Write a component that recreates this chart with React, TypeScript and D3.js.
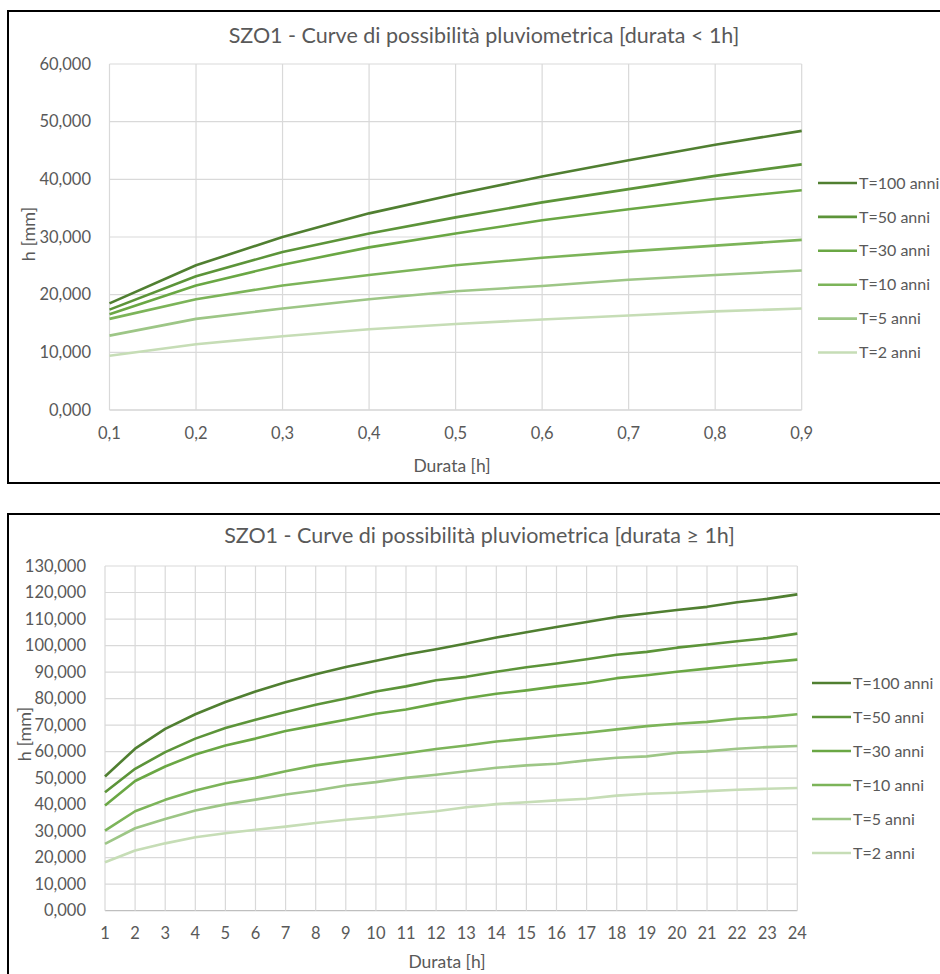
import React from "react";
import * as d3 from "d3";

// ---------- DATA ----------
const seriesNames = ["T=100 anni", "T=50 anni", "T=30 anni", "T=10 anni", "T=5 anni", "T=2 anni"];
const seriesColors = ["#507f31", "#5c9439", "#6aa744", "#7cb459", "#9dc686", "#c6ddb6"];

// Chart 1: durata < 1h
const durShort = [0.1, 0.2, 0.3, 0.4, 0.5, 0.6, 0.7, 0.8, 0.9];
const shortT100 = [18.5, 25.1, 30.0, 34.1, 37.4, 40.5, 43.3, 46.0, 48.4];
const shortT50 = [17.4, 23.2, 27.4, 30.6, 33.4, 36.0, 38.3, 40.6, 42.6];
const shortT30 = [16.6, 21.6, 25.2, 28.2, 30.6, 32.9, 34.8, 36.6, 38.1];
const shortT10 = [15.8, 19.2, 21.6, 23.4, 25.1, 26.4, 27.5, 28.5, 29.5];
const shortT5 = [12.9, 15.8, 17.6, 19.2, 20.6, 21.5, 22.6, 23.4, 24.2];
const shortT2 = [9.4, 11.4, 12.8, 14.0, 14.9, 15.7, 16.4, 17.1, 17.6];
const shortYTicks = [0, 10, 20, 30, 40, 50, 60];

// Chart 2: durata >= 1h
const durLong = d3.range(1, 25);
const longT100 = [50.6, 61.1, 68.6, 74.1, 78.7, 82.7, 86.2, 89.2, 91.9, 94.3, 96.6, 98.6, 100.8, 103.0, 105.0, 107.0, 108.9, 110.8, 112.1, 113.4, 114.6, 116.3, 117.6, 119.3];
const longT50 = [44.7, 53.5, 59.8, 64.9, 68.9, 72.0, 74.9, 77.7, 80.0, 82.7, 84.6, 86.9, 88.2, 90.1, 91.8, 93.2, 94.8, 96.5, 97.6, 99.2, 100.4, 101.6, 102.8, 104.5];
const longT30 = [39.7, 48.9, 54.4, 58.9, 62.3, 64.9, 67.8, 69.9, 72.0, 74.3, 75.9, 78.1, 80.1, 81.8, 83.1, 84.6, 85.9, 87.7, 88.8, 90.1, 91.3, 92.5, 93.6, 94.7];
const longT10 = [30.2, 37.5, 41.8, 45.3, 48.1, 50.1, 52.6, 54.8, 56.4, 57.9, 59.4, 61.0, 62.3, 63.8, 64.9, 66.1, 67.1, 68.4, 69.6, 70.5, 71.2, 72.4, 73.0, 74.1];
const longT5 = [25.2, 31.1, 34.6, 37.8, 40.1, 41.9, 43.8, 45.3, 47.2, 48.5, 50.1, 51.3, 52.6, 53.9, 54.8, 55.4, 56.7, 57.7, 58.2, 59.6, 60.1, 61.1, 61.7, 62.1];
const longT2 = [18.3, 22.7, 25.4, 27.7, 29.2, 30.5, 31.7, 33.1, 34.3, 35.3, 36.5, 37.5, 39.0, 40.2, 40.9, 41.6, 42.2, 43.4, 44.1, 44.5, 45.1, 45.6, 46.0, 46.3];
const longYTicks = d3.range(0, 131, 10);

const titleShort = "SZO1 - Curve di possibilità pluviometrica [durata < 1h]";
const titleLong = "SZO1 - Curve di possibilità pluviometrica [durata ≥ 1h]";
const xTitle = "Durata [h]";
const yTitle = "h [mm]";

// ---------- STYLE ----------
const FONT = "Lato, 'Open Sans', sans-serif";
const TEXT = "#595959";
const GRID = "#d9d9d9";

const fmtY = (v: number) => d3.format(".3f")(v).replace(".", ",");
const fmtXShort = (v: number) => d3.format(".1f")(v).replace(".", ",");
const fmtXLong = (v: number) => String(v);

type ChartProps = {
  frameY: number;
  frameH: number;
  plot: { l: number; r: number; t: number; b: number };
  xs: number[];
  series: number[][];
  yTicks: number[];
  xFmt: (v: number) => string;
  title: string;
  titleX: number;
  titleY: number;
  xTitleX: number;
  xTitleY: number;
  xLabY: number;
  yTitleX: number;
  yTitleY: number;
  legendLineX: number;
  legendY0: number;
  legendStep: number;
  yLabX: number;
};

function Chart(p: ChartProps) {
  const x = d3.scaleLinear().domain([p.xs[0], p.xs[p.xs.length - 1]]).range([p.plot.l, p.plot.r]);
  const y = d3.scaleLinear().domain([p.yTicks[0], p.yTicks[p.yTicks.length - 1]]).range([p.plot.b, p.plot.t]);
  const line = d3
    .line<number>()
    .x((_, i) => x(p.xs[i]))
    .y((d) => y(d));
  return (
    <g>
      <rect x={8} y={p.frameY} width={1000} height={p.frameH} fill="#fff" stroke="#000" strokeWidth={2} />
      <text x={p.titleX} y={p.titleY} textAnchor="middle" fontSize={21.5} fill={TEXT} fontFamily={FONT}>
        {p.title}
      </text>
      {p.yTicks.map((t) => (
        <line key={"h" + t} x1={p.plot.l} x2={p.plot.r} y1={y(t)} y2={y(t)} stroke={t === 0 ? "#bfbfbf" : GRID} strokeWidth={1.2} />
      ))}
      {p.xs.map((t) => (
        <line key={"v" + t} x1={x(t)} x2={x(t)} y1={p.plot.t} y2={p.plot.b} stroke={GRID} strokeWidth={1.2} />
      ))}
      {p.yTicks.map((t) => (
        <text key={"yl" + t} x={p.yLabX} y={y(t)} dy="0.35em" textAnchor="end" fontSize={16.5} fill={TEXT} fontFamily={FONT}>
          {fmtY(t)}
        </text>
      ))}
      {p.xs.map((t) => (
        <text key={"xl" + t} x={x(t)} y={p.xLabY} dy="0.35em" textAnchor="middle" fontSize={16.5} fill={TEXT} fontFamily={FONT}>
          {p.xFmt(t)}
        </text>
      ))}
      {p.series
        .map((s, i) => ({ s, i }))
        .reverse()
        .map(({ s, i }) => (
          <path key={"s" + i} d={line(s) || ""} fill="none" stroke={seriesColors[i]} strokeWidth={2.6} strokeLinejoin="round" />
        ))}
      <text x={p.xTitleX} y={p.xTitleY} dy="0.35em" textAnchor="middle" fontSize={17.5} fill={TEXT} fontFamily={FONT}>
        {xTitle}
      </text>
      <text
        transform={`translate(${p.yTitleX},${p.yTitleY}) rotate(-90)`}
        dy="0.35em"
        textAnchor="middle"
        fontSize={18}
        fill={TEXT}
        fontFamily={FONT}
      >
        {yTitle}
      </text>
      {seriesNames.map((n, i) => {
        const ly = p.legendY0 + i * p.legendStep;
        return (
          <g key={"lg" + i}>
            <line x1={p.legendLineX} x2={p.legendLineX + 39} y1={ly} y2={ly} stroke={seriesColors[i]} strokeWidth={2.6} />
            <text x={p.legendLineX + 41} y={ly} dy="0.35em" fontSize={16} fill={TEXT} fontFamily={FONT}>
              {n}
            </text>
          </g>
        );
      })}
    </g>
  );
}

export default function App() {
  return (
    <div style={{ position: "absolute", left: 0, top: 0, width: 940, height: 974, background: "#fff" }}>
      <svg width={940} height={974} style={{ display: "block" }}>
        <rect x={0} y={0} width={940} height={974} fill="#fff" />
        <Chart
          frameY={11}
          frameH={472}
          plot={{ l: 109.5, r: 801.7, t: 64, b: 410 }}
          xs={durShort}
          series={[shortT100, shortT50, shortT30, shortT10, shortT5, shortT2]}
          yTicks={shortYTicks}
          xFmt={fmtXShort}
          title={titleShort}
          titleX={484}
          titleY={43}
          xTitleX={452}
          xTitleY={466}
          xLabY={433}
          yTitleX={29}
          yTitleY={234}
          legendLineX={818}
          legendY0={183}
          legendStep={33.9}
          yLabX={91}
        />
        <Chart
          frameY={514}
          frameH={500}
          plot={{ l: 105, r: 797.3, t: 566, b: 910.7 }}
          xs={durLong}
          series={[longT100, longT50, longT30, longT10, longT5, longT2]}
          yTicks={longYTicks}
          xFmt={fmtXLong}
          title={titleLong}
          titleX={479.5}
          titleY={543}
          xTitleX={447}
          xTitleY={962}
          xLabY={933}
          yTitleX={25}
          yTitleY={734}
          legendLineX={812}
          legendY0={683}
          legendStep={34}
          yLabX={86}
        />
      </svg>
    </div>
  );
}
